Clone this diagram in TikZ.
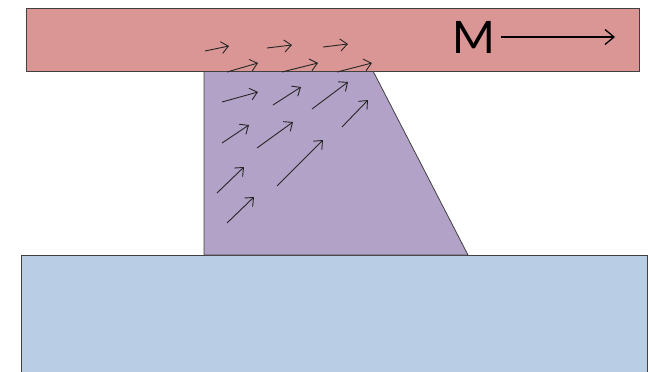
\documentclass[tikz,border=0pt]{standalone}
\usepackage{fontspec}
\setmainfont{Carlito}
\usetikzlibrary{arrows.meta}

\definecolor{barred}{HTML}{DA9694}
\definecolor{pillar}{HTML}{B3A2C7}
\definecolor{baseblue}{HTML}{B9CDE5}
\definecolor{edgegray}{HTML}{404040}

\begin{document}
\begin{tikzpicture}[
x=1pt, y=-1pt,
layer/.style={draw=edgegray, line width=0.8pt},
spin/.style={-{Straight Barb[length=7pt, width=12pt]}, line width=0.9pt, black!85},
magarrow/.style={-{Straight Barb[length=9pt, width=15pt]}, line width=1.3pt, black}
]
\useasboundingbox (0,0) rectangle (649,372);

% substrate, pillar and top bar
\fill[baseblue] (21,255) rectangle (647,380);
\draw[layer] (21,380) -- (21,255) -- (647,255) -- (647,380);
\filldraw[layer, fill=pillar] (204,255) -- (204,71) -- (373,71) -- (468,255) -- cycle;
\filldraw[layer, fill=barred] (26,8) rectangle (639,71);

% magnetisation
\node[font=\fontsize{50}{50}\selectfont, inner sep=0pt, anchor=west] (mlabel) at (452,37) {M};
\coordinate (mtip) at (615,37);
\draw[magarrow] (mlabel.east) ++(6pt,0) -- (mtip);

% small spins
\foreach \xa/\ya/\xb/\yb in {
  205/51/229/46, 267/48/292/45, 323/47/348/44,
  227/72/258/63, 282/72/318/63, 337/72/372/63,
  222/102/258/92, 273/105/301/87, 312/109/348/82,
  342/127/368/100, 222/143/249/125, 257/148/293/122,
  277/186/323/140, 217/193/244/167, 227/223/254/197}
  \draw[spin] (\xa,\ya) -- (\xb,\yb);
\end{tikzpicture}
\end{document}
